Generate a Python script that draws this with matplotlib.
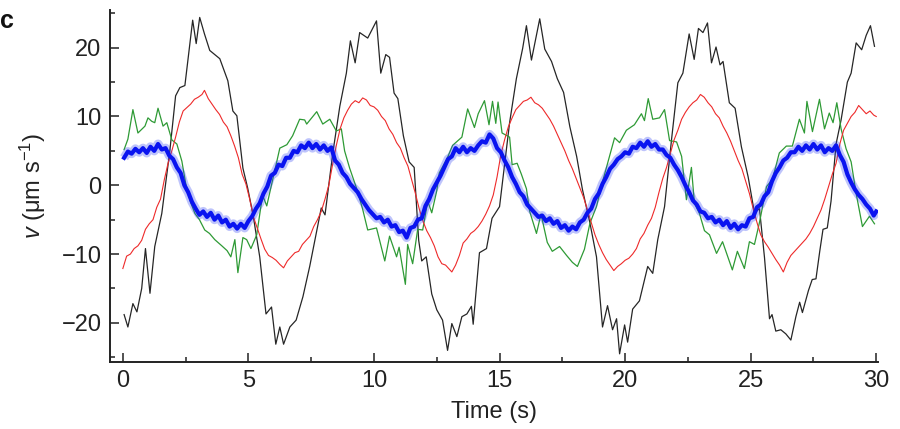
import matplotlib
matplotlib.use("Agg")
from matplotlib import pyplot as plt
from matplotlib.ticker import MultipleLocator

plt.rcParams['font.family'] = ['Liberation Sans', 'DejaVu Sans']
plt.rcParams['mathtext.fontset'] = 'custom'
plt.rcParams['mathtext.rm'] = 'Liberation Sans'
plt.rcParams['mathtext.it'] = 'Liberation Sans:italic'

# black trace (time s, velocity um/s)
t_black = [0.05, 0.2, 0.4, 0.56, 0.75, 0.9, 1.08, 1.27, 1.55, 1.87, 2.1, 2.27, 2.47, 2.78, 2.92,
           3.06, 3.25, 3.46, 3.86, 4.18, 4.38, 4.54, 4.78, 4.97, 5.18, 5.45, 5.7, 5.92, 6.09, 6.25,
           6.4, 6.65, 6.9, 7.17, 7.44, 7.7, 7.9, 8.05, 8.36, 8.64, 8.9, 9.06, 9.25, 9.43, 9.75,
           10.1, 10.27, 10.47, 10.62, 10.8, 10.95, 11.17, 11.4, 11.6, 11.78, 11.9, 12.08, 12.3, 12.5, 12.73,
           12.93, 13.1, 13.3, 13.5, 13.7, 13.88, 13.95, 14.2, 14.48, 14.7, 15.0, 15.4, 15.67, 15.92, 16.07,
           16.27, 16.6, 16.8, 17.07, 17.3, 17.55, 17.8, 18.07, 18.3, 18.6, 18.86, 19.1, 19.3, 19.5, 19.66,
           19.78, 19.98, 20.1, 20.3, 20.57, 20.9, 21.1, 21.3, 21.57, 21.85, 22.1, 22.3, 22.55, 22.75, 22.92,
           23.1, 23.28, 23.44, 23.62, 23.78, 23.9, 24.15, 24.38, 24.63, 24.9, 25.15, 25.35, 25.55, 25.75, 25.85,
           26.0, 26.2, 26.4, 26.6, 26.8, 26.95, 27.06, 27.3, 27.45, 27.6, 27.75, 27.88, 28.05, 28.2, 28.4,
           28.6, 28.85, 29.0, 29.2, 29.42, 29.6, 29.77, 29.93]
v_black = [-18.8, -20.6, -17.2, -18.4, -15.0, -9.2, -15.7, -8.9, -4.1, 5.0, 13.0, 14.2, 14.5, 24.0, 20.6,
           24.4, 22.0, 19.6, 18.4, 15.2, 10.8, 10.1, 2.5, -0.4, -4.2, -10.4, -18.7, -17.7, -23.1, -20.6,
           -23.1, -20.6, -19.6, -16.2, -11.8, -7.0, -3.3, -4.3, 4.7, 11.5, 16.3, 21.0, 17.8, 22.2, 21.4,
           23.9, 16.3, 19.0, 18.6, 13.4, 12.6, 7.2, 3.4, 2.6, -8.0, -11.0, -10.4, -15.8, -18.1, -19.6,
           -24.0, -20.1, -22.0, -19.1, -18.7, -17.6, -20.2, -9.8, -9.2, -4.8, -3.1, 9.1, 15.5, 19.9, 23.2,
           18.2, 24.2, 19.8, 18.0, 15.5, 13.5, 8.5, 4.2, -0.6, -5.5, -10.4, -20.6, -17.5, -21.0, -19.4,
           -24.5, -20.3, -22.8, -18.0, -16.8, -11.8, -12.8, -7.9, -3.1, 6.7, 14.9, 16.3, 22.0, 18.3, 22.8,
           22.2, 23.6, 17.8, 20.1, 17.5, 18.0, 12.0, 11.2, 5.6, 1.2, -4.0, -3.4, -10.5, -19.4, -18.8,
           -21.2, -21.0, -21.6, -22.5, -19.1, -17.0, -18.5, -15.3, -13.7, -13.6, -9.6, -6.4, -6.2, -2.3, 6.0,
           9.5, 15.0, 16.3, 20.7, 19.7, 21.8, 23.2, 20.2]

# red trace
t_red = [0.0, 0.15, 0.3, 0.45, 0.6, 0.75, 0.9, 1.05, 1.2, 1.35, 1.5, 1.65, 1.8, 1.95, 2.1, 2.25, 2.4,
         2.55, 2.7, 2.85, 3.0, 3.15, 3.25, 3.4, 3.55, 3.7, 3.85, 4.0, 4.15, 4.3, 4.45, 4.6, 4.75, 4.9,
         5.05, 5.2, 5.35, 5.5, 5.65, 5.8, 5.95, 6.1, 6.25, 6.4, 6.55, 6.7, 6.85, 7.0, 7.15, 7.3, 7.45,
         7.6, 7.75, 7.9, 8.05, 8.2, 8.35, 8.5, 8.65, 8.8, 8.95, 9.1, 9.25, 9.4, 9.55, 9.7, 9.85, 10.0,
         10.15, 10.3, 10.45, 10.6, 10.75, 10.9, 11.05, 11.2, 11.35, 11.5, 11.65, 11.8, 11.95, 12.1, 12.25,
         12.4, 12.55, 12.7, 12.85, 13.0, 13.1, 13.25, 13.4, 13.55, 13.7, 13.85, 14.0, 14.15, 14.3, 14.45,
         14.6, 14.75, 14.9, 15.05, 15.2, 15.35, 15.5, 15.65, 15.8, 15.95, 16.1, 16.25, 16.4, 16.55, 16.7,
         16.85, 17.0, 17.15, 17.3, 17.45, 17.6, 17.75, 17.9, 18.05, 18.2, 18.35, 18.5, 18.65, 18.8, 18.95,
         19.1, 19.25, 19.4, 19.55, 19.7, 19.85, 20.0, 20.15, 20.3, 20.45, 20.6, 20.75, 20.9, 21.05, 21.2,
         21.35, 21.5, 21.65, 21.8, 21.95, 22.1, 22.25, 22.4, 22.55, 22.7, 22.85, 23.0, 23.15, 23.3, 23.45,
         23.6, 23.75, 23.9, 24.05, 24.2, 24.35, 24.5, 24.65, 24.8, 24.95, 25.1, 25.25, 25.4, 25.55, 25.7,
         25.85, 26.0, 26.15, 26.3, 26.45, 26.6, 26.75, 26.9, 27.05, 27.2, 27.35, 27.5, 27.65, 27.8, 27.95,
         28.1, 28.25, 28.4, 28.55, 28.7, 28.85, 29.0, 29.15, 29.3, 29.45, 29.6, 29.75, 29.9, 30.0]
v_red = [-12.1, -10.3, -10.0, -9.2, -8.8, -8.0, -6.4, -5.6, -5.0, -3.2, -2.0, 0.8, 3.2, 5.0, 7.0, 9.2, 10.8,
         11.3, 11.8, 12.5, 12.8, 13.2, 13.8, 12.6, 11.8, 11.0, 10.3, 9.2, 8.5, 7.2, 5.7, 4.0, 1.6, 0.2,
         -2.0, -4.6, -6.2, -7.8, -9.3, -10.2, -10.5, -10.9, -11.5, -12.0, -11.0, -10.4, -9.8, -9.6, -8.6, -8.0, -7.4,
         -6.0, -5.0, -3.8, -2.0, 0.0, 3.0, 5.8, 8.2, 9.8, 10.9, 11.8, 12.3, 12.0, 12.7, 12.4, 11.6, 11.4,
         10.9, 10.0, 9.4, 8.2, 7.4, 6.2, 5.4, 4.0, 2.8, 0.8, -1.2, -3.4, -5.2, -6.6, -7.6,
         -8.8, -10.4, -11.4, -11.6, -12.2, -12.6, -11.6, -10.2, -8.4, -7.8, -7.0, -6.6, -6.0, -5.2, -4.2,
         -3.0, -1.4, 1.2, 4.4, 6.6, 8.5, 9.8, 11.0, 11.6, 12.2, 12.4, 12.8, 12.0, 11.7, 11.2,
         10.4, 9.6, 8.6, 7.4, 6.2, 5.0, 3.6, 2.4, 1.0, -0.4, -1.8, -3.6, -5.4, -7.2, -8.6,
         -9.8, -10.8, -11.6, -12.4, -11.8, -11.4, -10.9, -10.6, -10.0, -9.2, -7.8, -7.0, -5.8, -4.8, -3.2,
         -1.0, 1.0, 2.6, 4.6, 6.6, 8.0, 9.6, 10.6, 11.4, 12.0, 12.4, 13.2, 12.8, 12.0, 11.4,
         10.4, 9.8, 8.6, 7.6, 6.4, 5.0, 3.6, 2.4, 0.6, -1.2, -3.4, -5.4, -7.2, -8.2, -9.0,
         -9.9, -10.8, -11.6, -12.6, -11.2, -10.2, -9.6, -9.0, -8.4, -7.8, -7.0, -6.0, -4.8, -3.6, -2.0,
         -0.2, 1.6, 3.2, 6.0, 8.0, 9.0, 10.0, 10.6, 11.6, 11.0, 10.4, 10.8, 10.2, 10.0]

# green trace
t_green = [0.05, 0.2, 0.4, 0.6, 0.88, 1.0, 1.15, 1.27, 1.4, 1.6, 1.75, 1.95, 2.15, 2.35, 2.5, 2.7, 2.87,
           3.05, 3.26, 3.45, 3.66, 3.94, 4.15, 4.3, 4.46, 4.58, 4.78, 4.93, 5.1, 5.33, 5.5, 5.57, 5.73,
           5.97, 6.25, 6.53, 6.76, 7.04, 7.24, 7.32, 7.72, 7.96, 8.24, 8.5, 8.7, 8.83, 9.03, 9.35, 9.55,
           9.75, 10.1, 10.43, 10.62, 10.9, 11.0, 11.25, 11.34, 11.54, 11.74, 11.94, 12.14, 12.3, 12.5, 12.6,
           12.9, 13.13, 13.5, 13.73, 14.0, 14.15, 14.4, 14.58, 14.72, 14.85, 14.94, 15.1, 15.4, 15.5, 15.7,
           15.87, 16.07, 16.2, 16.47, 16.65, 16.9, 17.1, 17.39, 17.67, 17.9, 18.1, 18.38, 18.6, 18.86, 19.1,
           19.38, 19.58, 19.78, 20.05, 20.37, 20.65, 20.77, 20.92, 21.1, 21.37, 21.57, 21.77, 22.05, 22.25, 22.44,
           22.64, 22.76, 22.96, 23.16, 23.36, 23.64, 23.88, 24.27, 24.47, 24.75, 24.95, 25.15, 25.35, 25.63, 25.87,
           26.14, 26.42, 26.66, 26.94, 27.14, 27.24, 27.46, 27.74, 27.94, 28.13, 28.28, 28.43, 28.6, 28.8, 29.0,
           29.2, 29.45, 29.73, 29.93]
v_green = [5.2, 6.7, 11.0, 7.6, 8.6, 9.8, 9.3, 9.1, 11.2, 8.6, 9.1, 6.6, 6.0, 3.5, 0.3, -2.5, -4.1,
           -5.0, -6.5, -7.0, -7.9, -8.8, -9.5, -10.4, -7.9, -12.7, -7.6, -7.9, -9.2, -7.2, -3.0, -1.5, -3.0,
           0.9, 5.4, 5.9, 7.2, 9.6, 9.5, 8.9, 10.7, 8.9, 9.6, 7.9, 8.2, 5.0, 2.5, -0.9, -3.5,
           -6.5, -6.2, -11.0, -7.4, -10.4, -9.0, -14.4, -8.6, -11.4, -6.4, -6.5, -2.3, -4.0, -0.8, 1.8,
           3.8, 5.8, 7.0, 11.1, 8.4, 10.4, 12.3, 8.8, 12.2, 9.0, 12.1, 7.6, 7.0, 3.0, 3.2,
           1.6, -0.5, -3.8, -7.0, -4.2, -8.3, -9.6, -8.9, -10.2, -11.2, -11.8, -9.3, -5.5, -3.1, 0.5,
           4.2, 6.9, 6.2, 8.0, 8.8, 10.4, 9.4, 12.6, 9.6, 9.8, 11.0, 6.5, 6.3, 4.2, -2.1,
           2.6, -2.6, -4.1, -6.6, -7.2, -9.9, -8.2, -12.3, -9.6, -12.1, -8.2, -8.6, -5.4, -0.2, 0.9,
           4.7, 5.7, 5.7, 9.6, 7.6, 12.2, 7.8, 12.5, 8.2, 10.5, 9.1, 12.0, 8.2, 5.3, 3.4,
           -1.2, -6.0, -4.5, -5.6]

# blue trace
t_blue = [0.05, 0.2, 0.35, 0.5, 0.65, 0.8, 0.95, 1.1, 1.25, 1.4, 1.55, 1.7, 1.85, 2.0, 2.15, 2.3, 2.45,
          2.6, 2.75, 2.9, 3.05, 3.2, 3.35, 3.5, 3.65, 3.8, 3.95, 4.1, 4.25, 4.4, 4.55, 4.7, 4.85, 5.0,
          5.15, 5.3, 5.45, 5.6, 5.75, 5.9, 6.05, 6.2, 6.35, 6.5, 6.65, 6.8, 6.95, 7.1, 7.25, 7.4, 7.55,
          7.7, 7.85, 8.0, 8.15, 8.3, 8.45, 8.6, 8.75, 8.9, 9.05, 9.2, 9.35, 9.5, 9.65, 9.8, 9.95, 10.1,
          10.25, 10.4, 10.55, 10.7, 10.85, 11.0, 11.15, 11.3, 11.45, 11.6, 11.75, 11.9, 12.05, 12.2, 12.35,
          12.5, 12.65, 12.8, 12.95, 13.1, 13.25, 13.4, 13.55, 13.7, 13.85, 14.0, 14.15, 14.3, 14.45, 14.6,
          14.75, 14.9, 15.05, 15.2, 15.35, 15.5, 15.65, 15.8, 15.95, 16.1, 16.25, 16.4, 16.55, 16.7, 16.85,
          17.0, 17.15, 17.3, 17.45, 17.6, 17.75, 17.9, 18.05, 18.2, 18.35, 18.5, 18.65, 18.8, 18.95, 19.1,
          19.25, 19.4, 19.55, 19.7, 19.85, 20.0, 20.15, 20.3, 20.45, 20.6, 20.75, 20.9, 21.05, 21.2, 21.35,
          21.5, 21.65, 21.8, 21.95, 22.1, 22.25, 22.4, 22.55, 22.7, 22.85, 23.0, 23.15, 23.3, 23.45, 23.6,
          23.75, 23.9, 24.05, 24.2, 24.35, 24.5, 24.65, 24.8, 24.95, 25.1, 25.25, 25.4, 25.55, 25.7, 25.85,
          26.0, 26.15, 26.3, 26.45, 26.6, 26.75, 26.9, 27.05, 27.2, 27.35, 27.5, 27.65, 27.8, 27.95, 28.1,
          28.25, 28.4, 28.55, 28.7, 28.85, 29.0, 29.15, 29.3, 29.45, 29.6, 29.75, 29.9, 30.0]
v_blue = [4.0, 4.9, 4.6, 5.3, 4.8, 5.4, 4.7, 5.6, 5.0, 6.0, 5.2, 5.4, 4.3, 3.8, 2.6, 1.8, 0.0,
          -1.0, -2.4, -3.4, -4.3, -3.8, -4.6, -4.0, -5.0, -4.4, -5.4, -5.0, -6.0, -5.6, -6.3, -5.6, -6.2, -5.2,
          -4.5, -3.4, -2.6, -1.2, -0.2, 1.4, 1.8, 3.0, 2.8, 4.0, 4.0, 5.0, 4.8, 5.8, 5.4, 6.2, 5.4,
          6.0, 5.2, 5.8, 5.0, 5.5, 3.6, 3.0, 1.8, 1.2, 0.2, -0.4, -1.0, -2.0, -2.8, -3.6, -4.2, -4.8,
          -4.6, -5.4, -5.0, -6.0, -5.8, -6.8, -6.6, -7.6, -6.2, -6.0, -5.0, -4.8, -3.0, -2.0, -0.6,
          0.4, 1.4, 2.6, 3.8, 4.2, 5.4, 4.8, 5.6, 4.8, 5.4, 5.0, 5.8, 6.4, 6.2, 7.4,
          6.8, 5.4, 4.8, 3.6, 2.6, 1.2, 0.2, -1.0, -1.6, -2.8, -3.4, -4.0, -4.6, -4.4, -5.2,
          -4.8, -5.6, -5.2, -6.2, -5.8, -6.6, -6.0, -6.4, -5.4, -5.0, -4.0, -3.4, -2.0, -1.2, 0.2,
          1.2, 2.4, 3.0, 3.8, 4.2, 4.8, 4.6, 5.6, 5.4, 6.2, 5.6, 6.4, 5.6, 6.0, 5.2,
          5.2, 4.4, 4.0, 3.0, 2.2, 1.2, 0.0, -1.0, -2.2, -2.8, -3.8, -4.0, -4.8, -4.6, -5.4,
          -5.0, -5.8, -5.2, -6.2, -5.6, -6.4, -5.8, -6.0, -4.8, -4.6, -3.2, -2.8, -1.6, -1.0, 0.6,
          1.8, 2.6, 3.6, 4.0, 4.8, 4.8, 5.6, 5.0, 5.8, 5.2, 6.0, 5.2, 5.8, 4.8, 5.4,
          5.0, 5.8, 4.4, 3.4, 1.6, 0.4, -0.6, -1.4, -2.0, -2.8, -3.4, -4.4, -3.8]

fig = plt.figure(figsize=(9, 4.29), dpi=100)
ax = fig.add_axes([0.122, 0.156, 0.853, 0.821])

ax.plot(t_black, v_black, color='#262626', lw=0.9)
ax.plot(t_green, v_green, color='#2e9a35', lw=0.9)
ax.plot(t_red, v_red, color='#ee2a2a', lw=0.8)
# fuzzy band look of the blue trace: wide faint stroke under a solid one
ax.plot(t_blue, v_blue, color='#2a3cf5', lw=6.5, alpha=0.3, solid_capstyle='butt')
ax.plot(t_blue, v_blue, color='#0a14f0', lw=3.0)

ax.set_xlim(-0.52, 30.05)
ax.set_ylim(-25.7, 25.5)
ax.xaxis.set_major_locator(MultipleLocator(5))
ax.xaxis.set_minor_locator(MultipleLocator(2.5))
ax.yaxis.set_major_locator(MultipleLocator(10))
ax.yaxis.set_minor_locator(MultipleLocator(5))

for s in ['top', 'right']:
    ax.spines[s].set_visible(False)
for s in ['left', 'bottom']:
    ax.spines[s].set_linewidth(1.4)
    ax.spines[s].set_color('#222222')

ax.tick_params(which='major', direction='in', length=6.5, width=1.1, labelsize=17, pad=6, colors='#222222')
ax.tick_params(which='minor', direction='in', length=3.5, width=1.1, colors='#222222')
ax.set_yticks([-20, -10, 0, 10, 20])
ax.set_yticklabels(['\u221220', '\u221210', '0', '10', '20'])

ax.set_xlabel('Time (s)', fontsize=17, color='#222222', labelpad=6)
ax.set_ylabel(r'$v$ ($\mathrm{\mu}$m s$^{-1}$)', fontsize=17, color='#222222', labelpad=10)

fig.text(0.0, 0.935, 'c', fontsize=18, fontweight='bold', color='#111111')

fig.savefig('out.png', dpi=100)
